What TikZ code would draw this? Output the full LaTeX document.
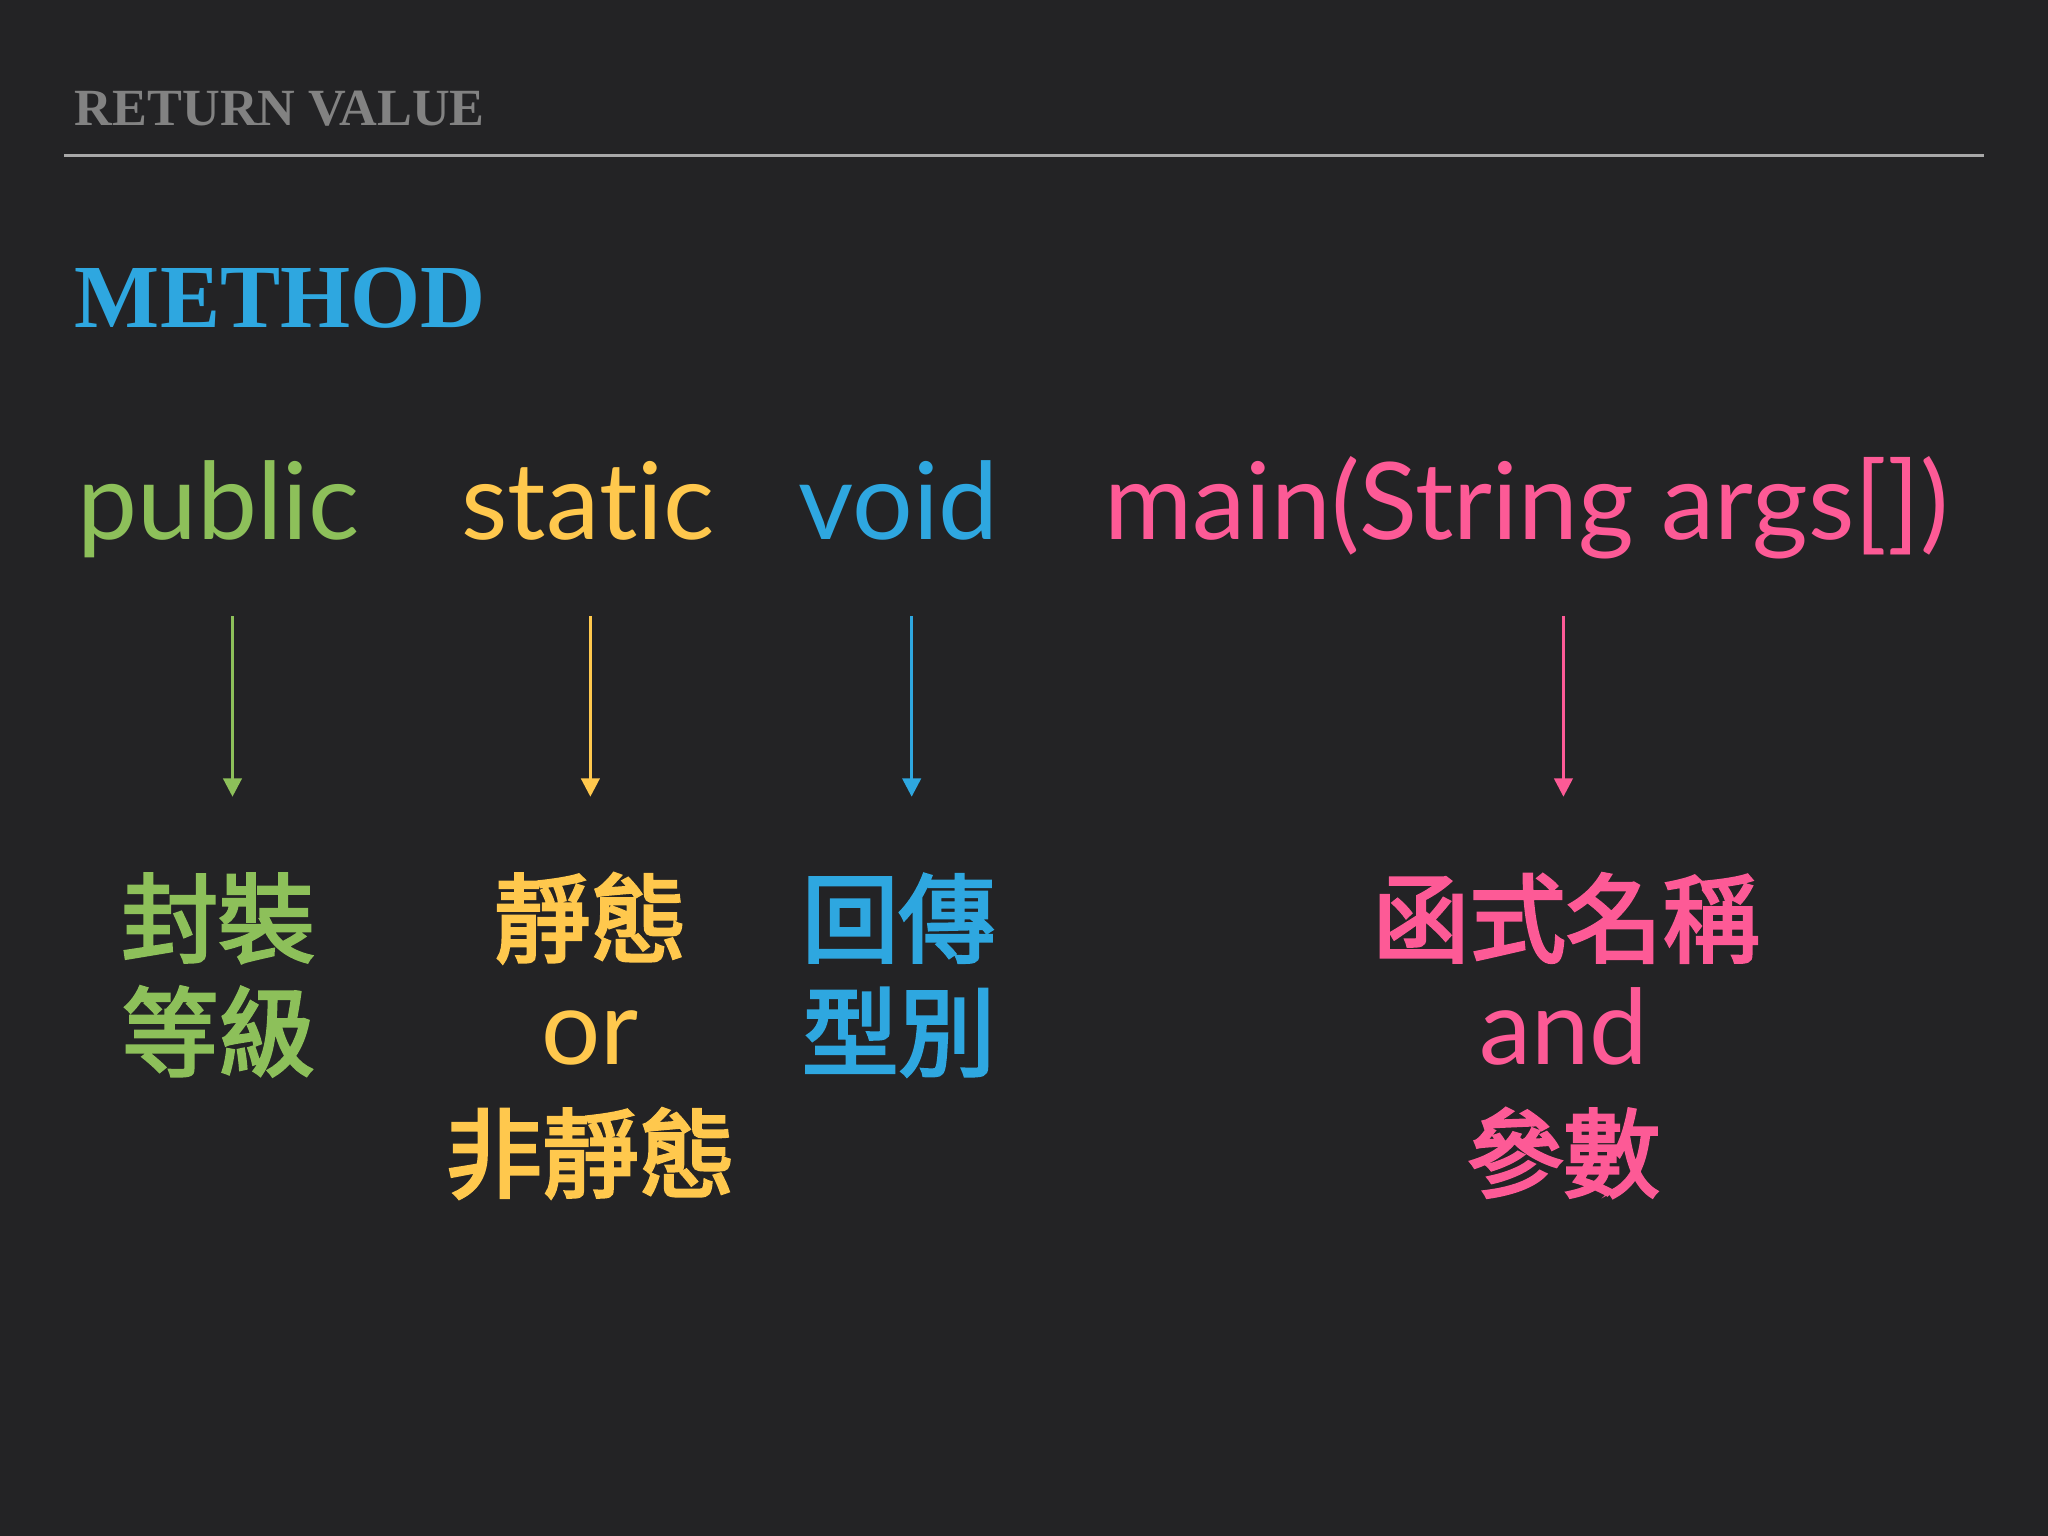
\documentclass[tikz,border=0pt]{standalone}
\usepackage{fontspec}
\setmainfont{Liberation Serif}
\newfontfamily\lat[Ligatures=NoCommon]{Lato}
\newfontfamily\cjk[FakeBold=3]{Noto Sans CJK TC}
\usetikzlibrary{arrows.meta}
\definecolor{bg}{HTML}{232325}
\definecolor{cgreen}{HTML}{8DC05A}
\definecolor{cyellow}{HTML}{FFC84D}
\definecolor{cblue}{HTML}{2EA7E0}
\definecolor{cpink}{HTML}{FD5A96}
\definecolor{cgray}{HTML}{828282}
\definecolor{crule}{HTML}{A8A8A8}
\tikzset{
  word/.style={inner sep=0pt, anchor=base west, font=\lat\fontsize{41}{48}\selectfont},
  cjkline/.style={inner sep=0pt, anchor=base, font=\cjk\fontsize{37}{44}\selectfont},
  latline/.style={inner sep=0pt, anchor=base, font=\lat\fontsize{40}{48}\selectfont},
  pointer/.style={line width=1.2pt, -{Triangle[width=7pt,length=7pt]}}
}
\begin{document}
\begin{tikzpicture}[x=0.5pt,y=-0.5pt]
\fill[bg] (0,0) rectangle (1568,1176);
\useasboundingbox (0,0) rectangle (1568,1176);
% header
\node[inner sep=0pt, anchor=base west, text=cgray, font=\bfseries\fontsize{20}{22}\selectfont] (hdr) at (57,96) {RETURN VALUE};
\coordinate (r1) at (49,119);
\coordinate (r2) at (1519,119);
\draw[crule, line width=1.2pt] (r1) -- (r2);
\node[inner sep=0pt, anchor=base west, text=cblue, font=\bfseries\fontsize{34.5}{40}\selectfont] (ttl) at (57,251) {METHOD};
% main line
\node[word, text=cgreen] (public) at (59,413) {public};
\node[word, text=cyellow] (static) at (353,413) {static};
\node[word, text=cblue] (void) at (611,413) {void};
\node[word, text=cpink] (main) at (845,413) {main(String args[])};
% arrows
\coordinate (a1s) at (178,472); \coordinate (a1e) at (178,610);
\coordinate (a2s) at (452,472); \coordinate (a2e) at (452,610);
\coordinate (a3s) at (698,472); \coordinate (a3e) at (698,610);
\coordinate (a4s) at (1197,472); \coordinate (a4e) at (1197,610);
\draw[pointer, cgreen] (a1s) -- (a1e);
\draw[pointer, cyellow] (a2s) -- (a2e);
\draw[pointer, cblue] (a3s) -- (a3e);
\draw[pointer, cpink] (a4s) -- (a4e);
% labels
\node[cjkline, text=cgreen] (g1) at (167,731) {封裝};
\node[cjkline, text=cgreen] (g2) at (167,818) {等級};
\node[cjkline, text=cyellow] (y1) at (452,731) {靜態};
\node[latline, text=cyellow] (y2) at (452,815) {or};
\node[cjkline, text=cyellow] (y3) at (452,911) {非靜態};
\node[cjkline, text=cblue] (b1) at (688,731) {回傳};
\node[cjkline, text=cblue] (b2) at (688,818) {型別};
\node[cjkline, text=cpink] (p1) at (1199,731) {函式名稱};
\node[latline, text=cpink] (p2) at (1197,815) {and};
\node[cjkline, text=cpink] (p3) at (1197,911) {參數};
\end{tikzpicture}
\end{document}
